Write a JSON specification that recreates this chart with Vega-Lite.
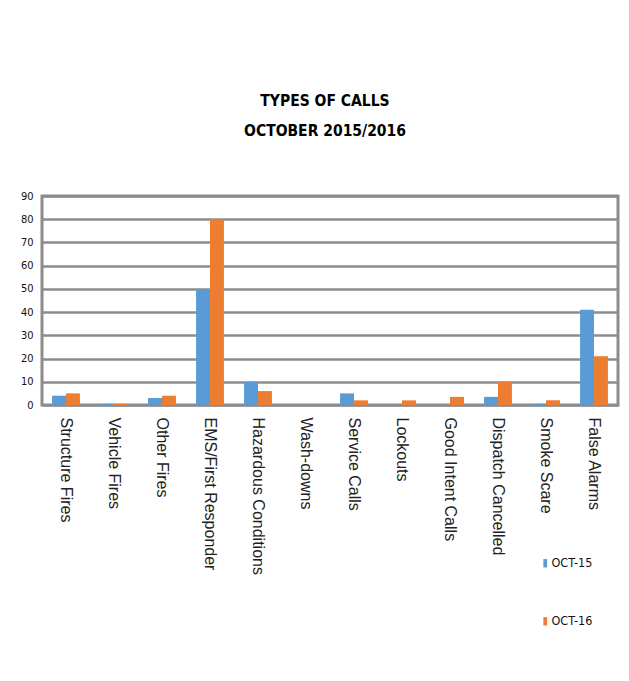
{
  "$schema": "https://vega.github.io/schema/vega-lite/v6.json",
  "width": 576,
  "height": 209,
  "autosize": "none",
  "padding": {"left": 42, "top": 196, "right": 11, "bottom": 276},
  "background": "white",
  "title": {
    "text": ["TYPES OF CALLS", "OCTOBER 2015/2016"],
    "anchor": "middle",
    "font": "DejaVu Sans Condensed",
    "fontSize": 15.5,
    "fontWeight": "bold",
    "color": "#000000",
    "lineHeight": 30,
    "offset": 51,
    "dx": -5
  },
  "data": {
    "values": [
      {"type": "Structure Fires", "period": "OCT-15", "calls": 4},
      {"type": "Structure Fires", "period": "OCT-16", "calls": 5},
      {"type": "Vehicle Fires", "period": "OCT-15", "calls": 0.5},
      {"type": "Vehicle Fires", "period": "OCT-16", "calls": 0.5},
      {"type": "Other Fires", "period": "OCT-15", "calls": 3},
      {"type": "Other Fires", "period": "OCT-16", "calls": 4},
      {"type": "EMS/First Responder", "period": "OCT-15", "calls": 50},
      {"type": "EMS/First Responder", "period": "OCT-16", "calls": 80},
      {"type": "Hazardous Conditions", "period": "OCT-15", "calls": 10},
      {"type": "Hazardous Conditions", "period": "OCT-16", "calls": 6},
      {"type": "Wash-downs", "period": "OCT-15", "calls": 0},
      {"type": "Wash-downs", "period": "OCT-16", "calls": 0},
      {"type": "Service Calls", "period": "OCT-15", "calls": 5},
      {"type": "Service Calls", "period": "OCT-16", "calls": 2},
      {"type": "Lockouts", "period": "OCT-15", "calls": 0},
      {"type": "Lockouts", "period": "OCT-16", "calls": 2},
      {"type": "Good Intent Calls", "period": "OCT-15", "calls": 0},
      {"type": "Good Intent Calls", "period": "OCT-16", "calls": 3.5},
      {"type": "Dispatch Cancelled", "period": "OCT-15", "calls": 3.5},
      {"type": "Dispatch Cancelled", "period": "OCT-16", "calls": 10},
      {"type": "Smoke Scare", "period": "OCT-15", "calls": 0.5},
      {"type": "Smoke Scare", "period": "OCT-16", "calls": 2},
      {"type": "False Alarms", "period": "OCT-15", "calls": 41},
      {"type": "False Alarms", "period": "OCT-16", "calls": 21}
    ]
  },
  "mark": {"type": "bar"},
  "encoding": {
    "x": {
      "field": "type",
      "type": "nominal",
      "sort": null,
      "title": null,
      "scale": {"paddingInner": 0.42, "paddingOuter": 0.21},
      "axis": {
        "labelAngle": 90,
        "labelAlign": "left",
        "labelBaseline": "middle",
        "labelFont": "Liberation Sans",
        "labelFontSize": 16,
        "labelColor": "#222222",
        "labelPadding": 12,
        "ticks": false,
        "domain": false,
        "labelLimit": 300
      }
    },
    "xOffset": {"field": "period", "type": "nominal", "scale": {"paddingInner": 0, "paddingOuter": 0}},
    "y": {
      "field": "calls",
      "type": "quantitative",
      "title": null,
      "scale": {"domain": [0, 90], "nice": false},
      "axis": {
        "values": [0, 10, 20, 30, 40, 50, 60, 70, 80, 90],
        "labelFont": "DejaVu Sans Condensed",
        "labelFontSize": 11,
        "labelColor": "#111111",
        "labelPadding": 9,
        "ticks": false,
        "domain": false,
        "gridColor": "#8c8c8c",
        "gridWidth": 2.5,
        "gridOpacity": 1
      }
    },
    "color": {
      "field": "period",
      "type": "nominal",
      "title": null,
      "scale": {"domain": ["OCT-15", "OCT-16"], "range": ["#5B9BD5", "#ED7D31"]},
      "legend": {
        "orient": "none",
        "legendX": 497,
        "legendY": 361,
        "direction": "vertical",
        "rowPadding": 45,
        "symbolType": "M-0.45,-1H0.45V1H-0.45Z",
        "symbolSize": 70,
        "symbolStrokeWidth": 0,
        "labelFont": "DejaVu Sans Condensed",
        "labelFontSize": 12.5,
        "labelColor": "#111111",
        "labelOffset": 0
      }
    }
  },
  "config": {
    "view": {"stroke": "#8c8c8c", "strokeWidth": 3}
  }
}
